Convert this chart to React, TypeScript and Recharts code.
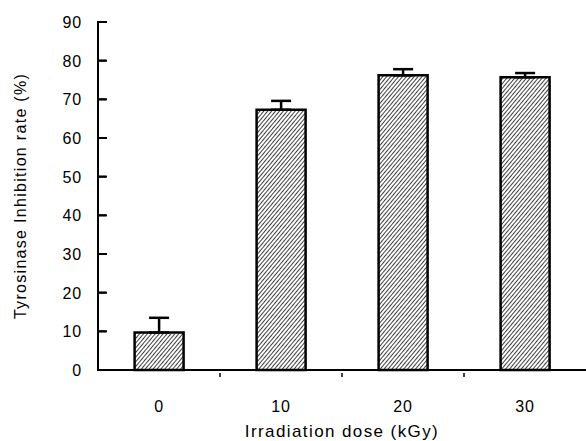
import React from 'react';
import { BarChart, Bar, XAxis, YAxis, ErrorBar } from 'recharts';

const doses = ['0', '10', '20', '30'];
const inhibition = [9.7, 67.3, 76.2, 75.7];
const errUpper = [3.8, 2.3, 1.6, 1.1];
const yTicks = [0, 10, 20, 30, 40, 50, 60, 70, 80, 90];

const data = doses.map((d, i) => ({
  dose: d,
  rate: inhibition[i],
  err: [0, errUpper[i]],
}));

const font = 'Liberation Sans, Arial, sans-serif';

const YTick = (props: any) => {
  const { x, y, payload } = props;
  // label anchor sits 16px left of the axis line; tick points inward
  return (
    <g>
      <line x1={x + 15} y1={y} x2={x + 25} y2={y} stroke="#000" strokeWidth={2} />
      <text x={x} y={y} dy={6} textAnchor="end" fontSize={16} letterSpacing={0.8} fontFamily={font} fill="#000">
        {payload.value}
      </text>
    </g>
  );
};

const XTick = (props: any) => {
  const { x, y, payload, index } = props;
  const half = payload.offset || 61;
  return (
    <g>
      {index < doses.length - 1 && (
        <line x1={x + half} y1={y - 1} x2={x + half} y2={y - 5} stroke="#000" strokeWidth={1.5} />
      )}
      <text x={x} y={y + 28} dy={6} textAnchor="middle" fontSize={16} letterSpacing={0.8} fontFamily={font} fill="#000">
        {payload.value}
      </text>
    </g>
  );
};

export default function App() {
  return (
    <div style={{ position: 'absolute', left: 0, top: 0, background: '#fff' }}>
      <BarChart
        width={586}
        height={441}
        data={data}
        margin={{ top: 22, right: 0, bottom: 0, left: 0 }}
        barCategoryGap="30%"
      >
        <defs>
          <pattern id="hatch" width="3" height="3" patternUnits="userSpaceOnUse" patternTransform="rotate(40)">
            <rect width="3" height="3" fill="#fff" />
            <line x1="0" y1="0" x2="0" y2="3" stroke="#000" strokeWidth="1.5" />
          </pattern>
        </defs>
        <XAxis
          dataKey="dose"
          height={71}
          tickLine={false}
          axisLine={{ stroke: '#000', strokeWidth: 2 }}
          tick={<XTick />}
          label={{
            value: 'Irradiation dose (kGy)',
            position: 'insideBottom',
            offset: 4,
            fontSize: 17,
            fontFamily: font,
            fill: '#000',
            style: { letterSpacing: 1.4 },
          }}
        />
        <YAxis
          width={98}
          domain={[0, 90]}
          ticks={yTicks}
          interval={0}
          tickSize={-8}
          tickMargin={24}
          tickLine={{ stroke: '#000', strokeWidth: 2 }}
          axisLine={{ stroke: '#000', strokeWidth: 2 }}
          tick={<YTick />}
          label={{
            value: 'Tyrosinase Inhibition rate (%)',
            angle: -90,
            position: 'insideLeft',
            offset: 20,
            fontSize: 16,
            fontFamily: font,
            fill: '#000',
            style: { textAnchor: 'middle', letterSpacing: 1.3 },
          }}
        />
        <Bar dataKey="rate" fill="url(#hatch)" stroke="#000" strokeWidth={2.5} isAnimationActive={false}>
          <ErrorBar dataKey="err" width={10} stroke="#000" strokeWidth={2.5} direction="y" />
        </Bar>
      </BarChart>
    </div>
  );
}
